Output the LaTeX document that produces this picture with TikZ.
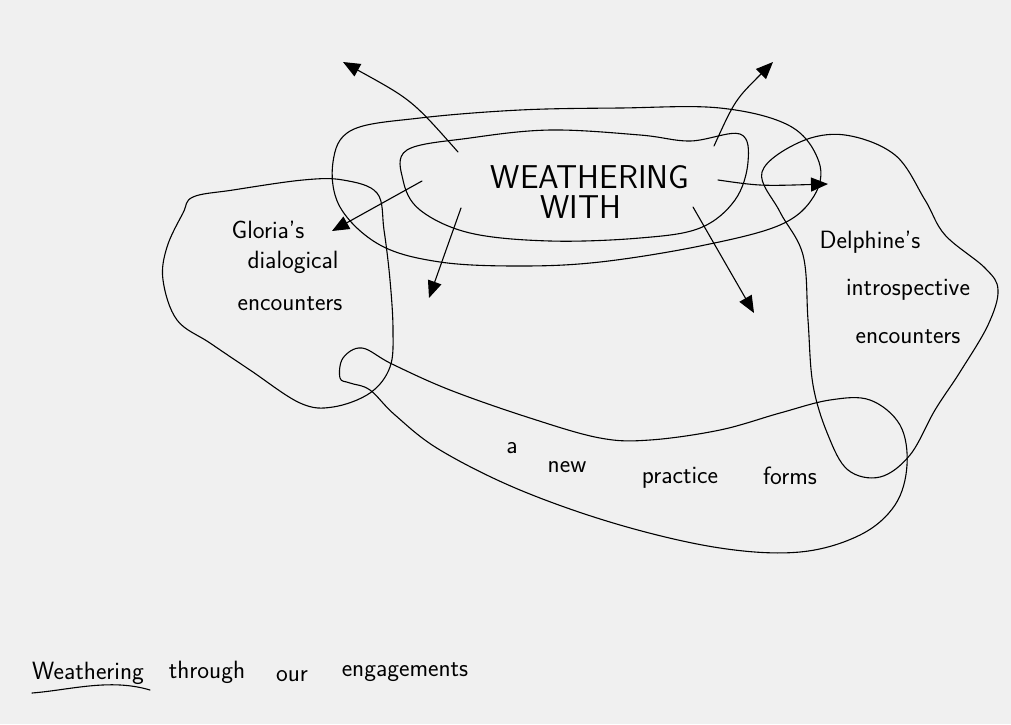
\documentclass[tikz,border=0pt]{standalone}
\usetikzlibrary{arrows.meta}
\definecolor{paper}{RGB}{240,240,240}
\begin{document}
\begin{tikzpicture}[x=1pt,y=-1pt,
  pen/.style={line width=1.1pt, black, line cap=round, line join=round},
  arr/.style={pen, -{Triangle[length=17pt,width=14pt]}},
  lbl/.style={font=\sffamily\fontsize{25}{28}\selectfont, inner sep=0pt},
  big/.style={font=\sffamily\fontsize{33}{36}\selectfont, inner sep=0pt}]
\fill[paper] (0,0) rectangle (1011,724);
\useasboundingbox (0,0) rectangle (1011,724);

% inner oval
\draw[pen] plot[smooth cycle, tension=0.6] coordinates {(407,150) (470,138) (550,130) (640,135) (690,141) (740,134) (748,162) (735,200) (700,228) (640,238) (550,241) (470,233) (420,210) (403,180)};
% outer oval
\draw[pen] plot[smooth cycle, tension=0.6] coordinates {(352,130) (420,118) (520,110) (620,108) (720,108) (790,126) (819,162) (814,196) (780,225) (700,246) (600,262) (520,266) (440,262) (380,245) (340,207) (333,162)};
% Gloria blob
\draw[pen] plot[smooth cycle, tension=0.6] coordinates {(193,197) (233,190) (303,180) (343,180) (377,193) (384,230) (390,280) (393,330) (390,367) (370,393) (333,407) (300,403) (250,370) (210,343) (177,320) (163,280) (167,247) (183,213)};
% Delphine blob
\draw[pen] plot[smooth cycle, tension=0.6] coordinates {(762,172) (800,142) (845,135) (895,155) (925,200) (945,235) (985,268) (998,290) (988,325) (960,372) (935,410) (910,455) (880,477) (848,470) (828,435) (813,385) (808,320) (803,255) (780,212)};
% practice sausage
\draw[pen] plot[smooth cycle, tension=0.6] coordinates {(340,378) (343,358) (362,348) (392,364) (450,390) (530,418) (600,438) (650,440) (720,430) (780,413) (830,400) (870,400) (900,425) (907,465) (895,505) (860,535) (800,552) (720,548) (620,525) (520,490) (440,450) (395,415) (370,390) (350,383)};

% texts
\node[big] (w1) at (590,177) {WEATHERING};
\node[big] (w2) at (581,207) {WITH};
\node[lbl] (g1) at (268,230) {Gloria's};
\node[lbl] (g2) at (293,262) {dialogical};
\node[lbl] (g3) at (290,304) {encounters};
\node[lbl] (d1) at (870,242) {Delphine's};
\node[lbl] (d2) at (908,290) {introspective};
\node[lbl] (d3) at (908,337) {encounters};
\node[lbl] (p1) at (512,448) {a};
\node[lbl] (p2) at (567,467) {new};
\node[lbl] (p3) at (680,478) {practice};
\node[lbl] (p4) at (790,476) {forms};
\node[lbl] (b1) at (88,673) {Weathering};
\node[lbl] (b2) at (207,672) {through};
\node[lbl] (b3) at (292,676) {our};
\node[lbl] (b4) at (405,672) {engagements};
\draw[pen] (32,693) .. controls (70,690) and (110,678) .. (150,690);

% arrows
\coordinate (ulS) at (458,152); \coordinate (ulE) at (343,62);
\coordinate (urS) at (714,146); \coordinate (urE) at (773,62);
\coordinate (rS) at (718,180);  \coordinate (rE) at (828,184);
\coordinate (lS) at (422,181);  \coordinate (lE) at (332,231);
\coordinate (llS) at (461,208); \coordinate (llE) at (429,298);
\coordinate (lrS) at (693,207); \coordinate (lrE) at (754,313);
\draw[arr] (ulS) .. controls (412,100) .. (ulE);
\draw[arr] (urS) .. controls (735,100) .. (urE);
\draw[arr] (rS) .. controls (760,186) .. (rE);
\draw[arr] (lS) -- (lE);
\draw[arr] (llS) -- (llE);
\draw[arr] (lrS) -- (lrE);
\end{tikzpicture}
\end{document}
